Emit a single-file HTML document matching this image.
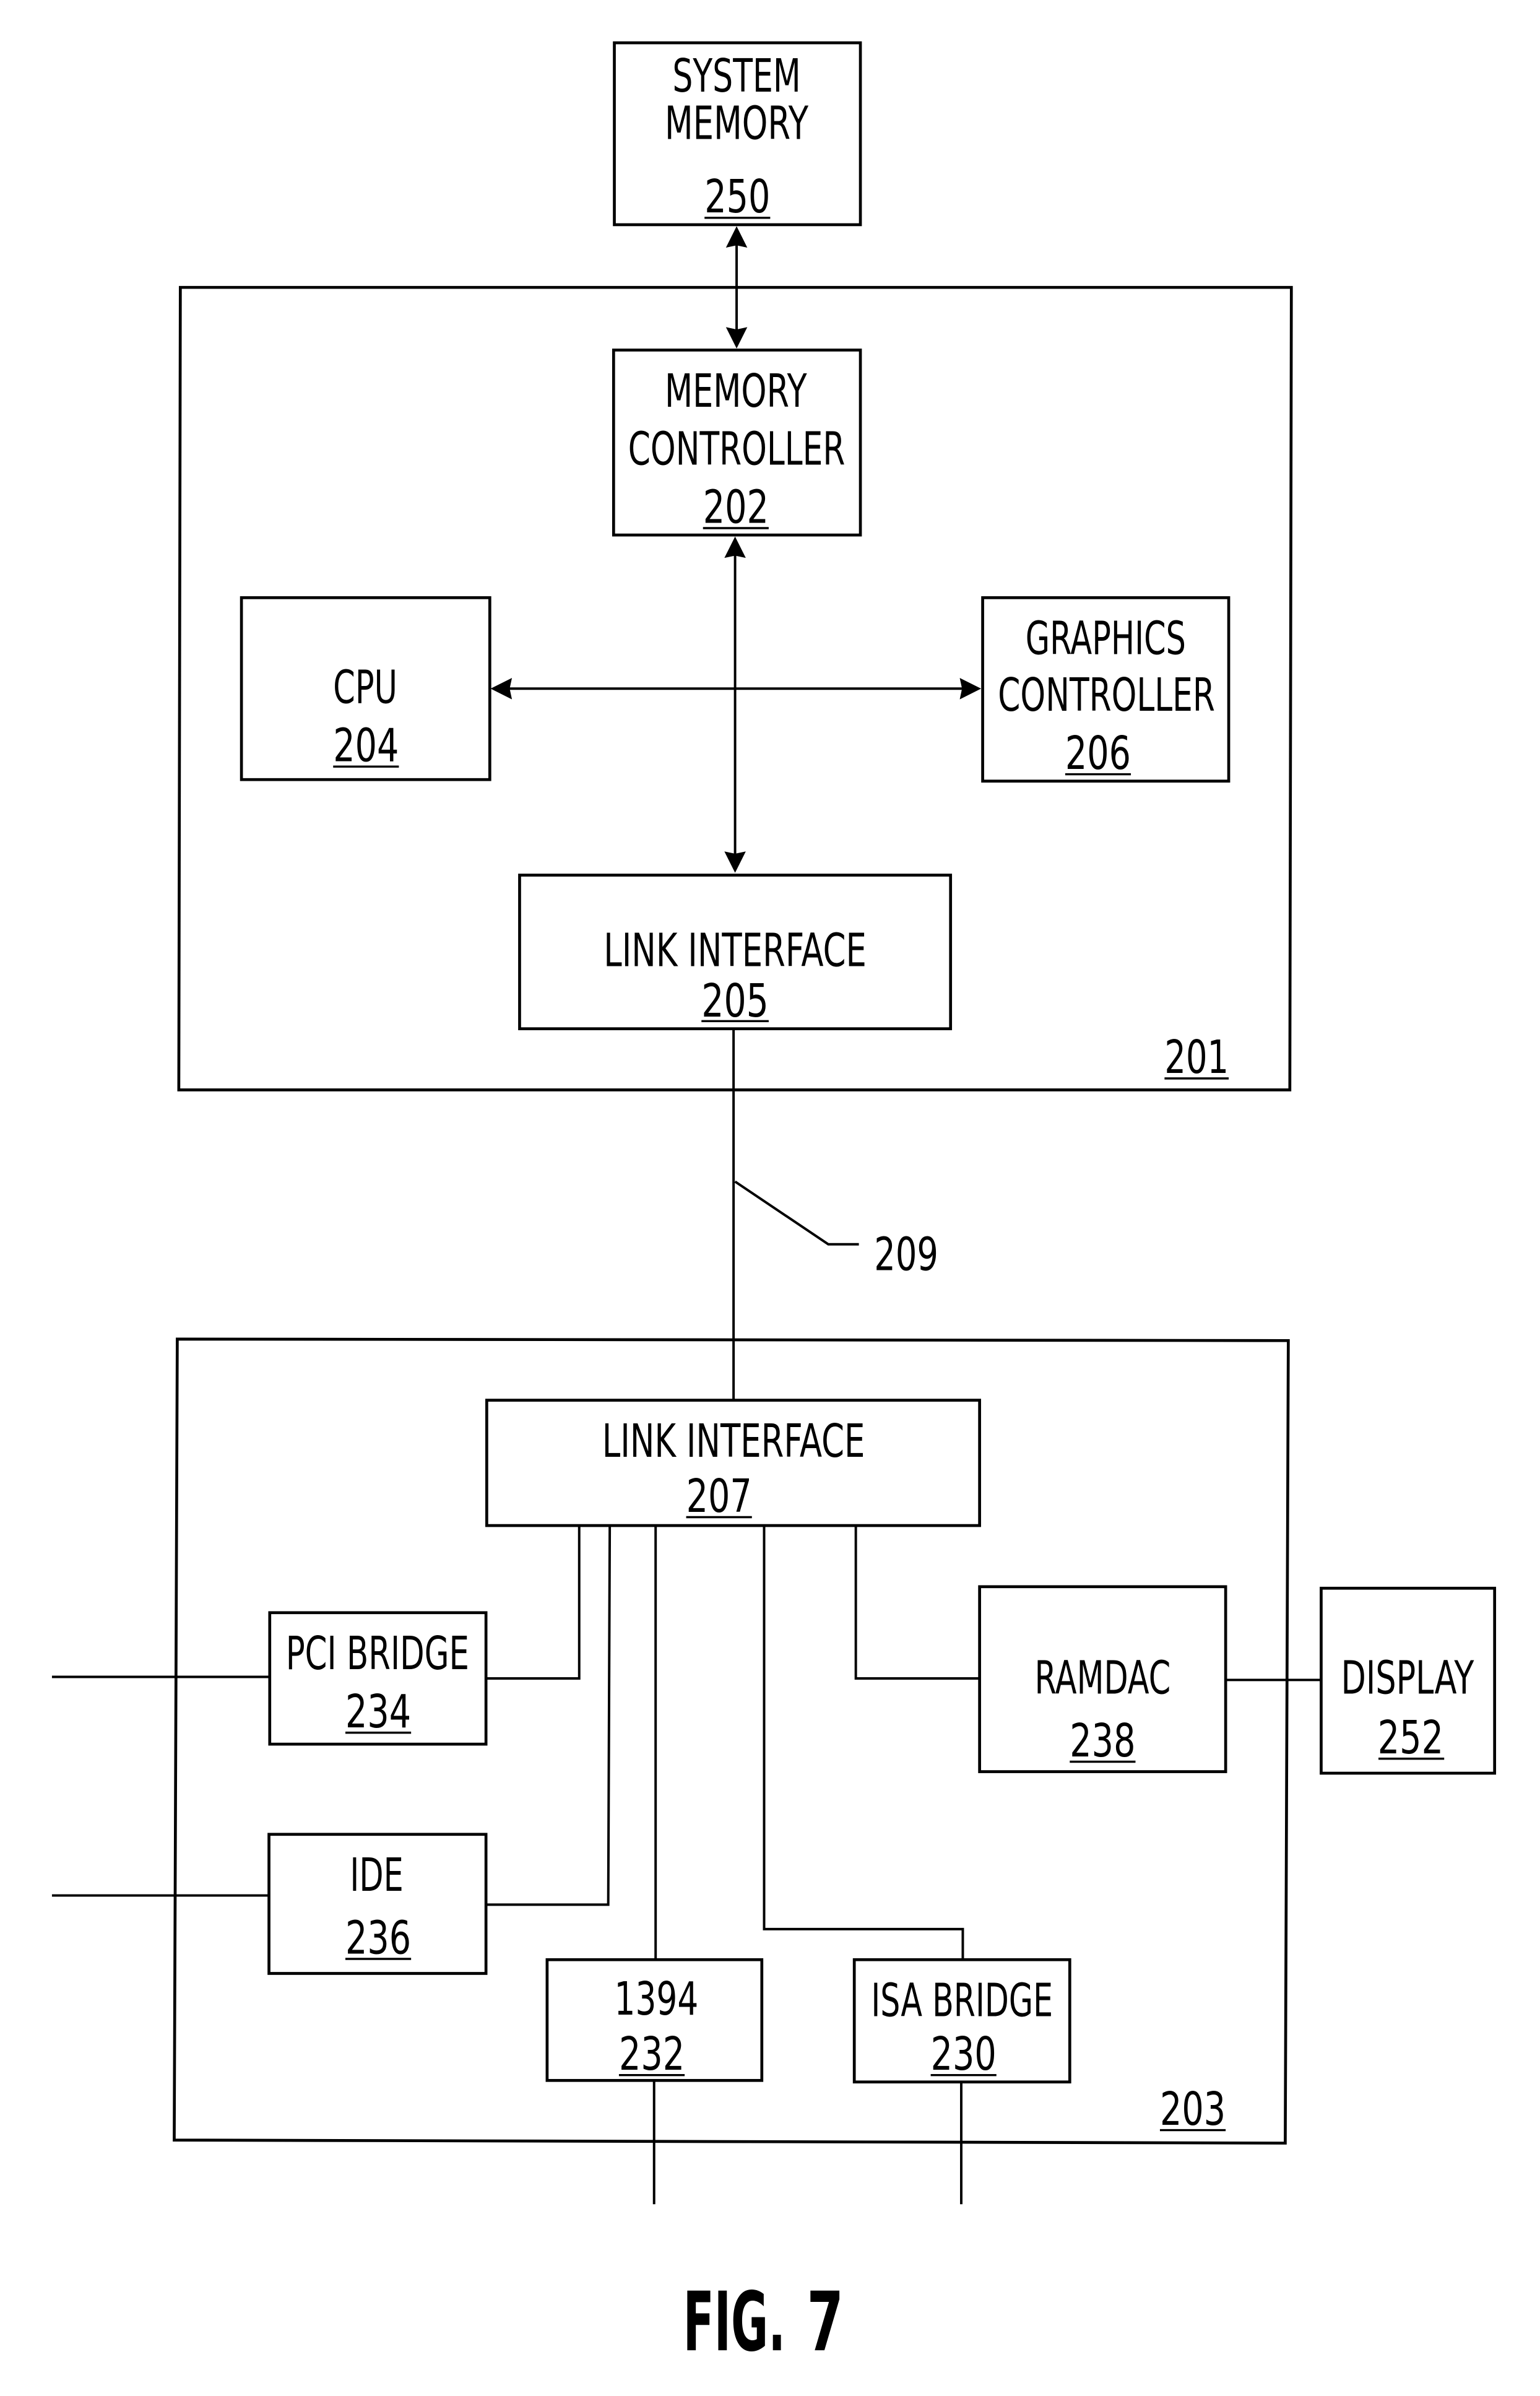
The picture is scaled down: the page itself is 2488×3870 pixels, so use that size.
<!DOCTYPE html>
<html><head><meta charset="utf-8"><style>
html,body{margin:0;padding:0;background:#fff;width:2488px;height:3870px;overflow:hidden}
svg{display:block}
text{font-family:"DejaVu Sans","Liberation Sans",sans-serif;font-size:30px;fill:#000;stroke:none}
</style></head><body>
<svg width="2488" height="3870" viewBox="0 0 2488 3870" xmlns="http://www.w3.org/2000/svg">
<rect width="2488" height="3870" fill="#fff"/>
<g transform="scale(2.469)">
<g fill="none" stroke="#000" stroke-width="1.9">
<rect x="402" y="28" width="161" height="119"/>
<polygon points="118,188 845,188 844,713 117,713"/>
<rect x="401.500" y="229" width="161.500" height="121"/>
<rect x="158" y="391" width="162.500" height="119"/>
<rect x="643" y="391" width="161" height="120"/>
<rect x="340" y="572.500" width="282" height="100.500"/>
<polygon points="116,876 843,877 841,1402 114,1400"/>
<rect x="318.500" y="916" width="322.500" height="82"/>
<rect x="176.500" y="1055" width="141.500" height="86"/>
<rect x="176" y="1200" width="142" height="91"/>
<rect x="358" y="1282" width="140.500" height="79"/>
<rect x="559" y="1282" width="141" height="80"/>
<rect x="641" y="1038" width="161" height="121"/>
<rect x="864.500" y="1039" width="113.500" height="121"/>
</g>
<g fill="none" stroke="#000" stroke-width="1.6">
<path d="M482 150V226"/>
<path d="M481 353V569"/>
<path d="M323 450.500H640"/>
<path d="M480 673V916"/>
<path d="M481 773L542 814H562"/>
<path d="M379 998V1098H318"/>
<path d="M34 1097H176"/>
<path d="M399 998L398 1246H318"/>
<path d="M34 1240H176"/>
<path d="M429 998V1282"/>
<path d="M500 998V1262H630V1282"/>
<path d="M560 998V1098H641"/>
<path d="M802 1099H864"/>
<path d="M428 1361V1442"/>
<path d="M629 1362V1442"/>
</g>
<g fill="#000" stroke="none">
<polygon points="482,148 475,162 482,160.500 489,162"/>
<polygon points="482,228 475,214 482,215.500 489,214"/>
<polygon points="481,351 474,365 481,363.500 488,365"/>
<polygon points="481,571 474,557 481,558.500 488,557"/>
<polygon points="321,450.500 335,443.500 333.500,450.500 335,457.500"/>
<polygon points="642,450.500 628,443.500 629.500,450.500 628,457.500"/>
</g>
<text x="440" y="60" textLength="84" lengthAdjust="spacingAndGlyphs">SYSTEM</text>
<text x="435" y="91" textLength="94" lengthAdjust="spacingAndGlyphs">MEMORY</text>
<text x="461" y="139" textLength="43" lengthAdjust="spacingAndGlyphs">250</text>
<text x="435" y="266" textLength="93" lengthAdjust="spacingAndGlyphs">MEMORY</text>
<text x="411" y="304" textLength="142" lengthAdjust="spacingAndGlyphs">CONTROLLER</text>
<text x="460" y="342" textLength="43" lengthAdjust="spacingAndGlyphs">202</text>
<text x="218" y="460" textLength="42" lengthAdjust="spacingAndGlyphs">CPU</text>
<text x="218" y="498" textLength="43" lengthAdjust="spacingAndGlyphs">204</text>
<text x="671" y="428" textLength="105" lengthAdjust="spacingAndGlyphs">GRAPHICS</text>
<text x="653" y="465" textLength="142" lengthAdjust="spacingAndGlyphs">CONTROLLER</text>
<text x="697" y="503" textLength="43" lengthAdjust="spacingAndGlyphs">206</text>
<text x="395" y="632" textLength="172" lengthAdjust="spacingAndGlyphs">LINK INTERFACE</text>
<text x="459" y="665" textLength="44" lengthAdjust="spacingAndGlyphs">205</text>
<text x="762" y="702" textLength="42" lengthAdjust="spacingAndGlyphs">201</text>
<text x="572" y="831" textLength="42" lengthAdjust="spacingAndGlyphs">209</text>
<text x="394" y="953" textLength="172" lengthAdjust="spacingAndGlyphs">LINK INTERFACE</text>
<text x="449" y="989" textLength="43" lengthAdjust="spacingAndGlyphs">207</text>
<text x="187" y="1092" textLength="120" lengthAdjust="spacingAndGlyphs">PCI BRIDGE</text>
<text x="226" y="1130" textLength="43" lengthAdjust="spacingAndGlyphs">234</text>
<text x="229" y="1237" textLength="35" lengthAdjust="spacingAndGlyphs">IDE</text>
<text x="226" y="1278" textLength="43" lengthAdjust="spacingAndGlyphs">236</text>
<text x="402" y="1318" textLength="55" lengthAdjust="spacingAndGlyphs">1394</text>
<text x="405" y="1354" textLength="43" lengthAdjust="spacingAndGlyphs">232</text>
<text x="570" y="1319" textLength="119" lengthAdjust="spacingAndGlyphs">ISA BRIDGE</text>
<text x="609" y="1354" textLength="43" lengthAdjust="spacingAndGlyphs">230</text>
<text x="677" y="1108" textLength="89" lengthAdjust="spacingAndGlyphs">RAMDAC</text>
<text x="700" y="1149" textLength="43" lengthAdjust="spacingAndGlyphs">238</text>
<text x="877.500" y="1108" textLength="87" lengthAdjust="spacingAndGlyphs">DISPLAY</text>
<text x="901.500" y="1147" textLength="43" lengthAdjust="spacingAndGlyphs">252</text>
<text x="759" y="1390" textLength="43" lengthAdjust="spacingAndGlyphs">203</text>
<g fill="none" stroke="#000" stroke-width="1.4">
<path d="M461 142.500H504"/>
<path d="M460 345.500H503"/>
<path d="M218 501.500H261"/>
<path d="M697 506.500H740"/>
<path d="M459 668H503"/>
<path d="M762 705.500H804"/>
<path d="M449 992.500H492"/>
<path d="M226 1133.500H269"/>
<path d="M226 1281.500H269"/>
<path d="M405 1357.500H448"/>
<path d="M609 1357.500H652"/>
<path d="M700 1152.500H743"/>
<path d="M902 1150.500H945"/>
<path d="M759 1393.500H802"/>
</g>
<text x="447" y="1537.500" textLength="67" lengthAdjust="spacingAndGlyphs" style="font-weight:bold;font-size:53.500px">FIG.</text>
<text x="528" y="1537.500" textLength="24" lengthAdjust="spacingAndGlyphs" style="font-weight:bold;font-size:53.500px">7</text>
</g>
</svg>
</body></html>
